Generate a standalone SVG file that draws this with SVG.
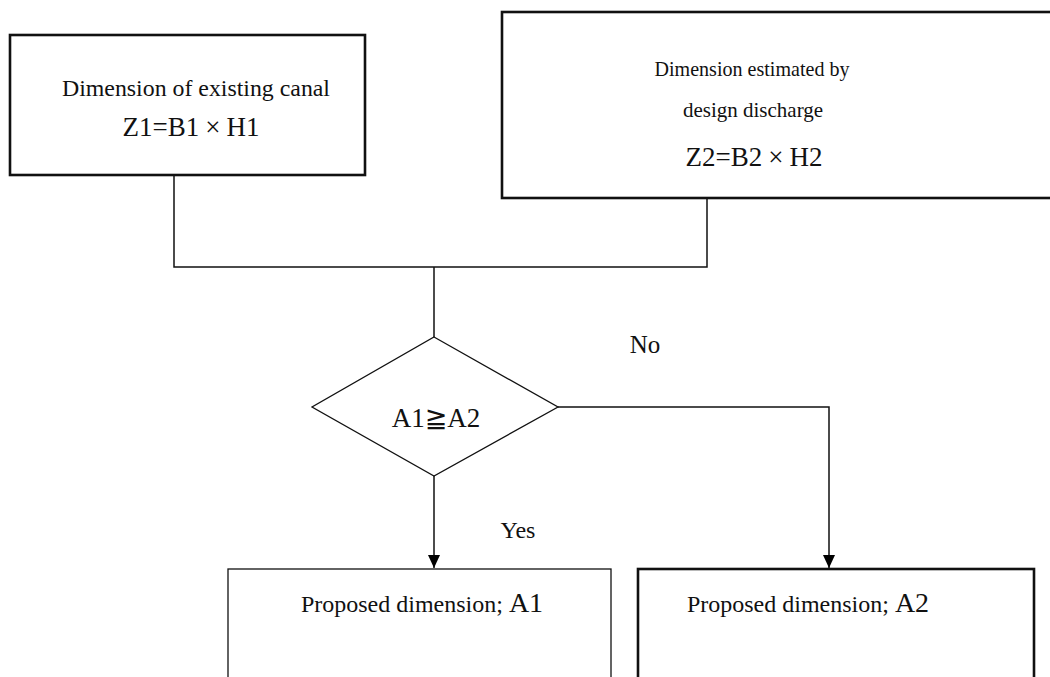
<svg xmlns="http://www.w3.org/2000/svg" width="1050" height="677" viewBox="0 0 1050 677">
<style>
.box{fill:#fff;stroke:#111;}
.thick{stroke-width:2.6;}
.thin{stroke-width:1.3;}
.t{font-family:"Liberation Serif","Times New Roman",Times,serif;fill:#111;text-anchor:middle;}
.sym{font-family:"DejaVu Serif","DejaVu Sans",serif;}
.c{fill:none;stroke:#111;stroke-width:1.5;}
</style>
<defs>
<marker id="arr" markerWidth="13" markerHeight="12" refX="13" refY="6" orient="auto" markerUnits="userSpaceOnUse">
<path d="M0,0 L13,6 L0,12 Z" fill="#000"/>
</marker>
</defs>
<rect width="1050" height="677" fill="#fff"/>
<g id="connectors">
<polyline class="c" points="174,175 174,267 707,267 707,198"/>
<line class="c" x1="434" y1="267" x2="434" y2="338"/>
<line class="c" x1="434" y1="476" x2="434" y2="568" marker-end="url(#arr)"/>
<polyline class="c" points="558,407 829,407 829,568" marker-end="url(#arr)"/>
<text class="t" x="645" y="353" font-size="25">No</text>
<text class="t" x="518" y="538" font-size="24">Yes</text>
</g>
<g id="box1">
<rect class="box thick" x="10" y="35" width="355" height="140"/>
<text class="t" x="196" y="96" font-size="24" textLength="268" lengthAdjust="spacingAndGlyphs">Dimension of existing canal</text>
<text class="t" x="191" y="136" font-size="27">Z1=B1<tspan dx="6">×</tspan><tspan dx="6">H1</tspan></text>
</g>
<g id="box2">
<rect class="box thick" x="502" y="12" width="570" height="186"/>
<text class="t" x="752" y="76" font-size="21" textLength="195" lengthAdjust="spacingAndGlyphs">Dimension estimated by</text>
<text class="t" x="753" y="117" font-size="21">design discharge</text>
<text class="t" x="754" y="166" font-size="27">Z2=B2<tspan dx="6">×</tspan><tspan dx="6">H2</tspan></text>
</g>
<g id="decision">
<polygon class="box thin" points="434,337 558,407 434,476 312,407"/>
<text class="t" x="436" y="427" font-size="27">A1<tspan class="sym">≧</tspan>A2</text>
</g>
<g id="box3">
<rect class="box thin" x="228" y="569" width="383" height="140"/>
<text class="t" x="422" y="612" font-size="24">Proposed dimension; <tspan font-size="28">A1</tspan></text>
</g>
<g id="box4">
<rect class="box thick" x="638" y="569" width="396" height="140"/>
<text class="t" x="808" y="612" font-size="24">Proposed dimension; <tspan font-size="28">A2</tspan></text>
</g>
</svg>
